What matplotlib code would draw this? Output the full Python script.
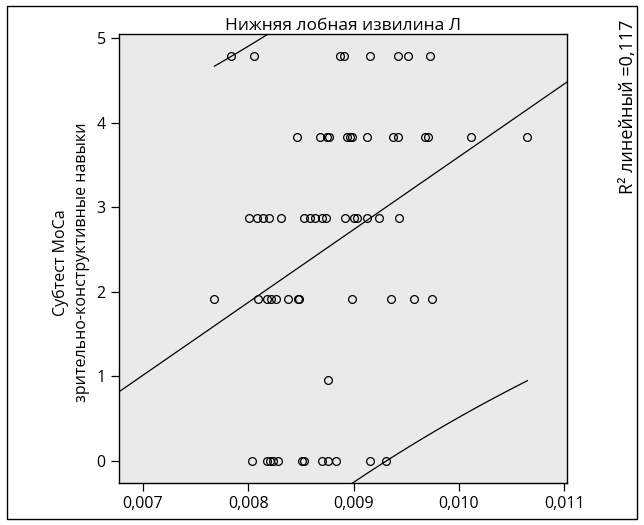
import numpy as np
import matplotlib
matplotlib.use("Agg")
import matplotlib.pyplot as plt
from matplotlib.patches import Rectangle

plt.rcParams["font.family"] = ["Open Sans", "DejaVu Sans"]

# score levels as placed on the y axis
levels = [0.0, 0.957, 1.914, 2.871, 3.828, 4.785]

# x values (Нижняя лобная извилина Л) for each score level
x_score0 = [0.00804, 0.00818, 0.00821, 0.00824, 0.00828, 0.00851, 0.00853,
            0.00870, 0.00876, 0.00883, 0.00916, 0.00931]
x_score1 = [0.00876]
x_score2 = [0.00768, 0.00809, 0.00818, 0.00822, 0.00826, 0.00838, 0.00847,
            0.00848, 0.00899, 0.00936, 0.00957, 0.00974]
x_score3 = [0.00801, 0.00808, 0.00814, 0.00820, 0.00831, 0.00853, 0.00859,
            0.00863, 0.00870, 0.00874, 0.00892, 0.00900, 0.00903, 0.00913,
            0.00924, 0.00943]
x_score4 = [0.00846, 0.00868, 0.00875, 0.00877, 0.00894, 0.00897, 0.00899,
            0.00913, 0.00937, 0.00942, 0.00968, 0.00971, 0.01011, 0.01065]
x_score5 = [0.00784, 0.00806, 0.00887, 0.00891, 0.00916, 0.00942, 0.00952,
            0.00973]

xticks = [0.007, 0.008, 0.009, 0.010, 0.011]
xtick_labels = ["0,007", "0,008", "0,009", "0,010", "0,011"]
ytick_labels = ["0", "1", "2", "3", "4", "5"]

groups = [x_score0, x_score1, x_score2, x_score3, x_score4, x_score5]
x = np.concatenate([np.array(g) for g in groups])
y = np.concatenate([np.full(len(g), lv) for g, lv in zip(groups, levels)])

fig = plt.figure(figsize=(6.44, 5.25), dpi=100)
ax = fig.add_axes([0.1848, 0.08, 0.6957, 0.8552])
ax.set_facecolor("#eaeaea")

ax.plot(x, y, "o", ms=5.6, mfc="none", mec="black", mew=0.9)

# linear fit and 95% prediction interval
b, a = np.polyfit(x, y, 1)
n = len(x)
resid = y - (a + b * x)
s = np.sqrt(np.sum(resid ** 2) / (n - 2))
sxx = np.sum((x - x.mean()) ** 2)
t = 2.0

xlim = (0.006775, 0.011026)
xl = np.array(xlim)
ax.plot(xl, a + b * xl, color="black", lw=0.9)
xs = np.linspace(x.min(), x.max(), 100)
half = t * s * np.sqrt(1 + 1 / n + (xs - x.mean()) ** 2 / sxx)
ax.plot(xs, a + b * xs + half, color="black", lw=0.9)
ax.plot(xs, a + b * xs - half, color="black", lw=0.9)

ax.set_xlim(xlim)
ax.set_ylim(-0.26, 5.047)
ax.set_xticks(xticks)
ax.set_xticklabels(xtick_labels)
ax.set_yticks([0, 1, 2, 3, 4, 5])
ax.set_yticklabels(ytick_labels)
ax.tick_params(labelsize=11.5, length=6, width=0.9, direction="out")
for sp in ax.spines.values():
    sp.set_linewidth(1.0)

ax.set_title("Нижняя лобная извилина Л", fontsize=12.5, pad=2)
fig.text(0.095, 0.5, "Субтест МоСа", rotation=90, ha="center", va="center",
         fontsize=11.5)
fig.text(0.127, 0.5, "зрительно-конструктивные навыки", rotation=90,
         ha="center", va="center", fontsize=11.5)
fig.text(0.975, 0.962, "R² линейный =0,117",
         rotation=90, ha="center", va="top", fontsize=13)

fig.patches.append(Rectangle((7 / 644, 6 / 525), 630 / 644, 513 / 525,
                             transform=fig.transFigure, fill=False,
                             edgecolor="black", lw=1.0))

fig.savefig("out.png", dpi=100)
